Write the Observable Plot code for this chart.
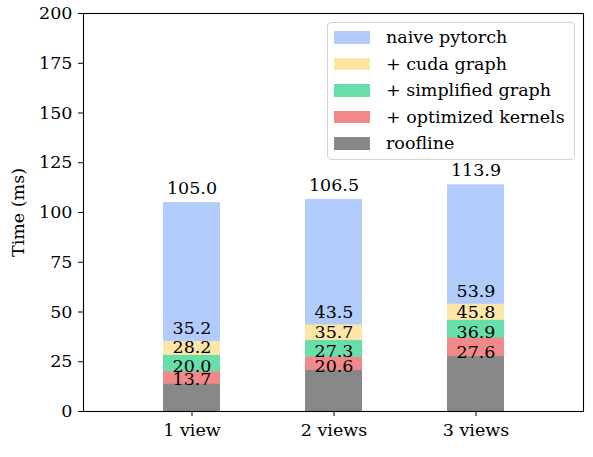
<!DOCTYPE html>
<html>
<head>
<meta charset="utf-8">
<script src="https://cdn.jsdelivr.net/npm/d3@7"></script>
<script src="https://cdn.jsdelivr.net/npm/@observablehq/plot@0.6"></script>
<style>
  body { margin: 0; background: white; font-family: "DejaVu Serif", serif; }
  #wrap { position: relative; width: 593px; height: 457px; }
  #legend {
    position: absolute; left: 327px; top: 22px; width: 248px; height: 138px;
    box-sizing: border-box; border: 1px solid #d4d4d4; border-radius: 4px;
    background: rgba(255,255,255,0.85); padding-top: 1px; font-size: 17.5px; color: black;
  }
  .row { display: flex; align-items: center; height: 26.5px; }
  .sw { width: 36px; height: 12.5px; margin-left: 6px; margin-right: 16px; }
</style>
</head>
<body>
<div id="wrap">
  <div id="chart"></div>
  <div id="legend"></div>
</div>
<script>
const views = ["1 view", "2 views", "3 views"]
const naive = [105.0, 106.5, 113.9]
const cudaGraph = [35.2, 43.5, 53.9]
const simplifiedGraph = [28.2, 35.7, 45.8]
const optimizedKernels = [20.0, 27.3, 36.9]
const roofline = [13.7, 20.6, 27.6]
const seriesNames = ["naive pytorch", "+ cuda graph", "+ simplified graph", "+ optimized kernels", "roofline"]
const yTicks = [0, 25, 50, 75, 100, 125, 150, 175, 200]

const colors = ["#b1ccfa", "#fde6a8", "#68dfaa", "#f08a8a", "#888888"]
const labelDy = [-9, -7, -2, 0, 1]

const allSeries = [naive, cudaGraph, simplifiedGraph, optimizedKernels, roofline]
let rows = []
allSeries.forEach((vals, k) => {
  vals.forEach((v, i) => rows.push({view: views[i], series: seriesNames[k], value: v}))
})

let chart = Plot.plot({
  width: 593,
  height: 457,
  marginLeft: 83,
  marginRight: 10,
  marginTop: 13,
  marginBottom: 46,
  style: {fontFamily: "DejaVu Serif", fontSize: "17.5px", color: "black", background: "white"},
  x: {domain: views, paddingInner: 0.6, paddingOuter: 0.55},
  y: {domain: [0, 200]},
  color: {domain: seriesNames, range: colors},
  marks: [
    // bars overlap (drawn front to back), not stacked
    Plot.barY(rows, {x: "view", y1: 0, y2: "value", fill: "series"}),
    ...seriesNames.map((s, k) => Plot.text(rows.filter(d => d.series === s), {
      x: "view", y: "value", text: d => d.value.toFixed(1),
      lineAnchor: "bottom", dy: labelDy[k], fill: "black", fontSize: 17.5
    })),
    Plot.axisY({ticks: yTicks, tickSize: 5, tickPadding: 6, fontSize: 17.5,
      label: "Time (ms)", labelAnchor: "center", labelOffset: 72, labelArrow: "none"}),
    Plot.axisX({tickSize: 5, tickPadding: 7, fontSize: 17.5, label: null}),
    Plot.frame({stroke: "black", strokeWidth: 1.1})
  ]
})

d3.select('#chart').append(() => chart)

const legend = d3.select('#legend')
seriesNames.forEach((s, k) => {
  const row = legend.append('div').attr('class', 'row')
  row.append('div').attr('class', 'sw').style('background', colors[k])
  row.append('span').text(s)
})
</script>
</body>
</html>
